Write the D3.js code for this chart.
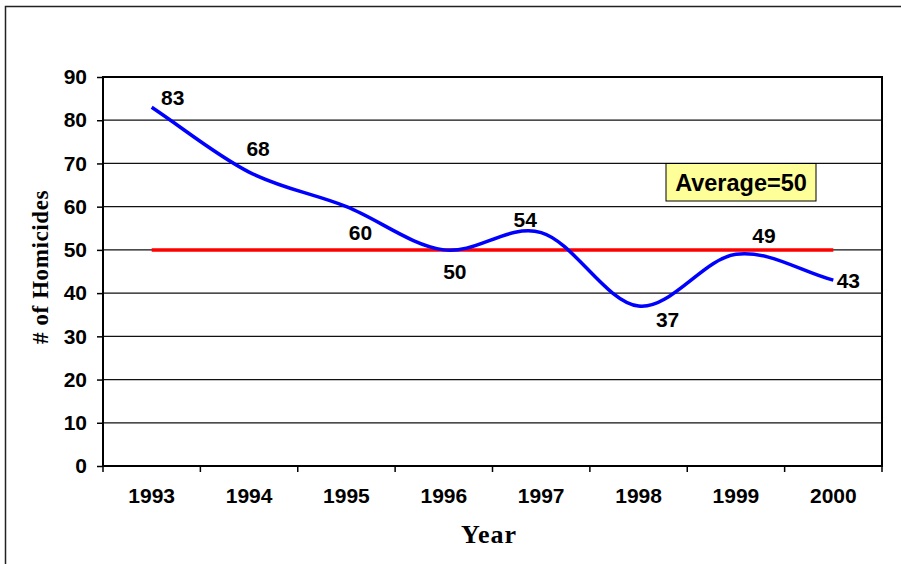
<!DOCTYPE html>
<html>
<head>
<meta charset="utf-8">
<script src="https://cdn.jsdelivr.net/npm/d3@7"></script>
<style>
  html, body { margin: 0; padding: 0; background: #fff; }
  svg { display: block; }
</style>
</head>
<body>
<svg id="chart"></svg>
<script>
// chart data
const years = ["1993", "1994", "1995", "1996", "1997", "1998", "1999", "2000"];
const homicides = [83, 68, 60, 50, 54, 37, 49, 43];
const average = 50;
const yTicks = [0, 10, 20, 30, 40, 50, 60, 70, 80, 90];

// where each value label sits relative to its point
const labelOffsets = [[21, -10], [9, -24], [14, 26], [11, 22], [-16, -13], [29, 13], [28, -19], [15, 0]];

const width = 901;
const height = 564;
const plot = { left: 103, right: 882, top: 77, bottom: 466 };

const svg = d3.select("#chart")
  .attr("width", width)
  .attr("height", height);

// outer chart frame (runs off the right and bottom of the picture)
svg.append("rect")
  .attr("x", 5.5)
  .attr("y", 6.5)
  .attr("width", 1000)
  .attr("height", 1000)
  .attr("fill", "none")
  .attr("stroke", "#222")
  .attr("stroke-width", 1.5);

const x = d3.scaleBand()
  .domain(years)
  .range([plot.left, plot.right])
  .padding(0);

const y = d3.scaleLinear()
  .domain([0, 90])
  .range([plot.bottom, plot.top]);

const cx = d => x(d) + x.bandwidth() / 2;

// Excel-like smoothed line: catmull-rom inside, chord tangents at the ends
function excelSmooth(context) {
  let pts = [];
  return {
    areaStart() {}, areaEnd() {},
    lineStart() { pts = []; },
    point(px, py) { pts.push([+px, +py]); },
    lineEnd() {
      const n = pts.length;
      if (!n) return;
      const tan = pts.map((p, i) => {
        const a = pts[Math.max(0, i - 1)], b = pts[Math.min(n - 1, i + 1)];
        const k = (i === 0 || i === n - 1) ? 1 : 0.5;
        return [(b[0] - a[0]) * k, (b[1] - a[1]) * k];
      });
      context.moveTo(pts[0][0], pts[0][1]);
      for (let i = 0; i < n - 1; i++) {
        const p = pts[i], q = pts[i + 1];
        context.bezierCurveTo(
          p[0] + tan[i][0] / 3, p[1] + tan[i][1] / 3,
          q[0] - tan[i + 1][0] / 3, q[1] - tan[i + 1][1] / 3,
          q[0], q[1]);
      }
    }
  };
}

// gridlines
svg.append("g")
  .selectAll("line")
  .data(yTicks.filter(t => t > 0 && t < 90))
  .join("line")
  .attr("x1", plot.left)
  .attr("x2", plot.right)
  .attr("y1", d => y(d))
  .attr("y2", d => y(d))
  .attr("stroke", "#111")
  .attr("stroke-width", 1.2);

// y axis
const yAxis = svg.append("g")
  .attr("transform", `translate(${plot.left},0)`)
  .call(d3.axisLeft(y).tickValues(yTicks).tickSize(6).tickPadding(10));
yAxis.select(".domain").remove();
yAxis.selectAll(".tick line").attr("stroke", "#000").attr("stroke-width", 1.5);
yAxis.selectAll(".tick text")
  .attr("font-family", "Arial, 'Liberation Sans', sans-serif")
  .attr("font-weight", "bold")
  .attr("font-size", "21px")
  .attr("fill", "#000");

// x axis: labels at band centres, ticks at band edges
const xAxis = svg.append("g")
  .attr("transform", `translate(0,${plot.bottom})`)
  .call(d3.axisBottom(x).tickSize(0).tickPadding(22));
xAxis.select(".domain").remove();
xAxis.selectAll(".tick text")
  .attr("font-family", "Arial, 'Liberation Sans', sans-serif")
  .attr("font-weight", "bold")
  .attr("font-size", "21px")
  .attr("fill", "#000");

svg.append("g")
  .selectAll("line")
  .data(years.map(d => x(d)).concat([plot.right]))
  .join("line")
  .attr("x1", d => d)
  .attr("x2", d => d)
  .attr("y1", plot.bottom)
  .attr("y2", plot.bottom + 6)
  .attr("stroke", "#000")
  .attr("stroke-width", 1.5);

// plot frame
svg.append("rect")
  .attr("x", plot.left)
  .attr("y", plot.top)
  .attr("width", plot.right - plot.left)
  .attr("height", plot.bottom - plot.top)
  .attr("fill", "none")
  .attr("stroke", "#000")
  .attr("stroke-width", 2);

// average line
svg.append("line")
  .attr("x1", cx(years[0]))
  .attr("x2", cx(years[years.length - 1]))
  .attr("y1", y(average))
  .attr("y2", y(average))
  .attr("stroke", "#ff0000")
  .attr("stroke-width", 3.5);

// homicide series
const line = d3.line()
  .x((d, i) => cx(years[i]))
  .y(d => y(d))
  .curve(excelSmooth);

svg.append("path")
  .datum(homicides)
  .attr("d", line)
  .attr("fill", "none")
  .attr("stroke", "#0000ff")
  .attr("stroke-width", 3.5)
  .attr("stroke-linejoin", "round");

// value labels
svg.append("g")
  .selectAll("text")
  .data(homicides)
  .join("text")
  .attr("x", (d, i) => cx(years[i]) + labelOffsets[i][0])
  .attr("y", (d, i) => y(d) + labelOffsets[i][1])
  .attr("text-anchor", "middle")
  .attr("dominant-baseline", "central")
  .attr("font-family", "Arial, 'Liberation Sans', sans-serif")
  .attr("font-weight", "bold")
  .attr("font-size", "21px")
  .attr("fill", "#000")
  .text(d => d);

// average callout
const avgBox = svg.append("g").attr("transform", "translate(666,163.5)");
avgBox.append("rect")
  .attr("width", 150)
  .attr("height", 37.5)
  .attr("fill", "#ffff99")
  .attr("stroke", "#000")
  .attr("stroke-width", 1);
avgBox.append("text")
  .attr("x", 75)
  .attr("y", 19)
  .attr("text-anchor", "middle")
  .attr("dominant-baseline", "central")
  .attr("font-family", "Arial, 'Liberation Sans', sans-serif")
  .attr("font-weight", "bold")
  .attr("font-size", "23.5px")
  .attr("fill", "#000")
  .text("Average=" + average);

// axis titles
svg.append("text")
  .attr("transform", "translate(48,267) rotate(-90)")
  .attr("text-anchor", "middle")
  .attr("font-family", "'Times New Roman', 'Liberation Serif', serif")
  .attr("font-weight", "bold")
  .attr("font-size", "23px")
  .attr("letter-spacing", "0.6px")
  .attr("fill", "#000")
  .text("# of Homicides");

svg.append("text")
  .attr("x", 489)
  .attr("y", 543)
  .attr("text-anchor", "middle")
  .attr("font-family", "'Times New Roman', 'Liberation Serif', serif")
  .attr("font-weight", "bold")
  .attr("font-size", "26px")
  .attr("letter-spacing", "1px")
  .attr("fill", "#000")
  .text("Year");
</script>
</body>
</html>
